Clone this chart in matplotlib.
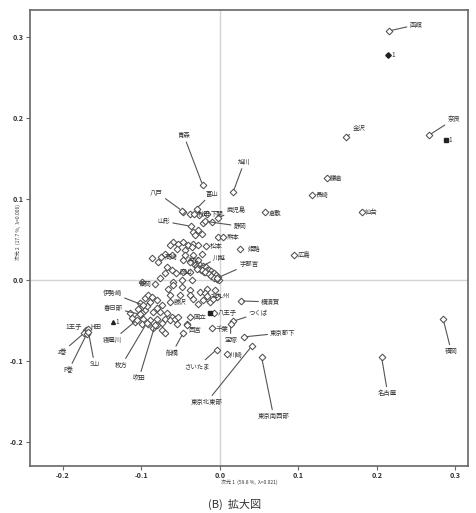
import matplotlib
matplotlib.use('Agg')
import matplotlib.pyplot as plt

plt.rcParams['font.family'] = ['Noto Sans CJK JP', 'DejaVu Sans']
plt.rcParams['axes.unicode_minus'] = False

# ---- data: labeled cities (dimension 1, dimension 2) ----
city_names = ['函館', '金沢', '奈良', '鎌倉', '長崎', '仙台', '広島', '倉敷', '福岡', '名古屋',
              '青森', '旭川', '富山', '八戸', '秋田', '下関', '鹿児島', '静岡', '熊本', '山形',
              '松本', '姫路', '川越', '宇都宮', '高崎', '浜松', '岡山', '長岡', '伊勢崎', '春日部',
              '寝屋川', '枚方', '吹田', '藤沢', '北九州', '横須賀', '八王子', 'つくば', '宝塚', '国立',
              '西宮', '千葉', '東京都下', '川崎', 'さいたま', '船橋', '東京北東部', '東京南西部',
              '1王子', 'H田', 'z巻', 'F巻', 'S山']
city_x = [0.2153, 0.1601, 0.2662, 0.1359, 0.1176, 0.1805, 0.0946, 0.0573, 0.2845, 0.2060,
          -0.0220, 0.0169, -0.0297, -0.0480, -0.0331, -0.0169, -0.0022, -0.0191, 0.0034, -0.0373,
          -0.0178, 0.0255, -0.0297, -0.0042, -0.0752, -0.0471, -0.0561, -0.0828, -0.0977, -0.1019,
          -0.1061, -0.0934, -0.0828, -0.0637, -0.0166, 0.0264, -0.0076, 0.0169, 0.0136, -0.0382,
          -0.0417, -0.0106, 0.0306, 0.0085, -0.0042, -0.0468, 0.0404, 0.0531,
          -0.1707, -0.1682, -0.1732, -0.1698, -0.1675]
city_y = [0.3072, 0.1759, 0.1784, 0.1257, 0.1043, 0.0830, 0.0302, 0.0830, -0.0491, -0.0960,
          0.1167, 0.1084, 0.0879, 0.0849, 0.0809, 0.0809, 0.0768, 0.0722, 0.0528, 0.0660,
          0.0422, 0.0385, 0.0138, 0.0019, 0.0278, 0.0241, 0.0080, -0.0047, -0.0315, -0.0426,
          -0.0500, -0.0537, -0.0562, -0.0278, -0.0204, -0.0262, -0.0414, -0.0512, -0.0549, -0.0459,
          -0.0562, -0.0595, -0.0706, -0.0923, -0.0862, -0.0657, -0.0821, -0.0960,
          -0.0623, -0.0611, -0.0660, -0.0673, -0.0648]

# ---- data: unlabeled cities ----
other_x = [-0.0468, -0.0382, -0.0264, -0.0098, -0.0213, -0.0276, -0.0340, -0.0233, -0.0318, -0.0022,
           -0.0595, -0.0531, -0.0468, -0.0637, -0.0404, -0.0340, -0.0276, -0.0552, -0.0446, -0.0361,
           -0.0701, -0.0615, -0.0446, -0.0340, -0.0233, -0.0382, -0.0276, -0.0679, -0.0615, -0.0701,
           -0.0468, -0.0382, -0.0764, -0.0595, -0.0488, -0.0361, -0.0997,
           -0.0318, -0.0293, -0.0268, -0.0255, -0.0229, -0.0217, -0.0191, -0.0178, -0.0166, -0.0153,
           -0.0140, -0.0127, -0.0115, -0.0102, -0.0089, -0.0076, -0.0064, -0.0051, -0.0038, -0.0025,
           -0.0013, -0.0242, -0.0204, -0.0280, -0.0230, -0.0185, -0.0145, -0.0110, -0.0070, -0.0035,
           -0.0659, -0.0595, -0.0488, -0.0382, -0.0255, -0.0169, -0.0064, -0.0637, -0.0510, -0.0382,
           -0.0191, -0.0340, -0.0149, -0.0042, -0.0892, -0.0806, -0.0743, -0.0955, -0.0850, -0.0764,
           -0.0679, -0.1061, -0.0977, -0.0892, -0.0806, -0.0701, -0.0615, -0.1083, -0.0997, -0.0913,
           -0.0806, -0.0743, -0.0850, -0.0743, -0.0701, -0.0637, -0.0573, -0.0424, -0.0531, -0.0552,
           -0.0955, -0.0917, -0.0866, -0.1019, -0.0930, -0.1045, -0.0994, -0.0803, -0.1121, -0.1146,
           -0.0866, -0.0790, -0.0217, -0.0127, -0.0089, -0.0280]
other_y = [0.0837, 0.0817, 0.0796, 0.0714, 0.0701, 0.0611, 0.0590, 0.0570, 0.0549, 0.0528,
           0.0467, 0.0447, 0.0467, 0.0426, 0.0426, 0.0447, 0.0426, 0.0385, 0.0373, 0.0405,
           0.0323, 0.0302, 0.0302, 0.0302, 0.0323, 0.0220, 0.0249, 0.0158, 0.0117, 0.0077,
           0.0096, 0.0096, 0.0015, -0.0027, -0.0006, -0.0006, -0.0027,
           0.0179, 0.0167, 0.0154, 0.0179, 0.0142, 0.0167, 0.0130, 0.0154, 0.0117, 0.0093,
           0.0117, 0.0080, 0.0105, 0.0068, 0.0043, 0.0080, 0.0031, 0.0056, 0.0006, 0.0031,
           -0.0006, 0.0117, 0.0093, 0.0150, 0.0125, 0.0100, 0.0075, 0.0050, 0.0025, 0.0010,
           -0.0109, -0.0068, -0.0089, -0.0130, -0.0151, -0.0109, -0.0130, -0.0191, -0.0191, -0.0191,
           -0.0170, -0.0232, -0.0232, -0.0212, -0.0274, -0.0253, -0.0315, -0.0377, -0.0398, -0.0398,
           -0.0417, -0.0459, -0.0479, -0.0500, -0.0479, -0.0479, -0.0459, -0.0521, -0.0541, -0.0541,
           -0.0562, -0.0533, -0.0602, -0.0623, -0.0664, -0.0500, -0.0479, -0.0541, -0.0459, -0.0541,
           -0.0228, -0.0191, -0.0216, -0.0290, -0.0327, -0.0364, -0.0414, -0.0352, -0.0475, -0.0414,
           0.0265, 0.0216, -0.0253, -0.0278, -0.0241, -0.0302]

# ---- data: supplementary points ----
supp_x = [0.2140, 0.2875, -0.1367, -0.0127]
supp_y = [0.2770, 0.1730, -0.0528, -0.0414]
supp_labels = ['1', '1', '1', '']

x_ticks = [-0.2, -0.1, 0.0, 0.1, 0.2, 0.3]
y_ticks = [-0.2, -0.1, 0.0, 0.1, 0.2, 0.3]
x_label = '次元 1  (59.8 %,  λ=0.021)'
y_label = '次元 2  (17.7 %,  λ=0.006)'
caption = '(B)  拡大図'

# ---- layout: label offsets in pixels (dx, dy up) and leader-line flags ----
label_dx = [27, 13, 25, 10, 10, 10, 10, 10, 8, 6,
            -19, 11, 15, -26, 10, 10, 18, 35, 10, -27,
            10, 14, 23, 32, 10, 10, 10, -10, -31, -27,
            -24, -25, -16, 10, 13, 30, 13, 25, 0, 10,
            8, 10, 39, 10, -19, -11, -45, 12,
            -12, 8, -22, -18, 6]
label_dy = [6, 9, 16, 0, 0, 0, 0, 0, -32, -36,
            50, 30, 15, 19, 0, 0, 7, -5, 0, 5,
            0, 0, 11, 14, 0, 0, 1, 0, 12, 6,
            -20, -42, -53, 0, 0, -1, 0, 8, -16, 0,
            -5, -1, 4, 0, -17, -20, -56, -59,
            3, 2, -19, -36, -32]
label_line = [1, 1, 1, 0, 0, 0, 0, 0, 1, 1,
              1, 1, 1, 1, 0, 0, 1, 1, 0, 1,
              0, 0, 1, 1, 0, 0, 0, 0, 1, 1,
              1, 1, 1, 0, 0, 1, 0, 1, 1, 0,
              0, 0, 1, 0, 1, 1, 1, 1,
              0, 0, 1, 1, 1]
supp_markers = ['D', 's', '^', 's']

W, H = 477, 513
fig = plt.figure(figsize=(W / 100, H / 100), dpi=100)
ax = fig.add_axes([30 / W, 1 - 466 / H, 438 / W, 456 / H])
ax.set_xlim(-0.242, 0.316)
ax.set_ylim(-0.230, 0.333)

ax.axhline(0, color='#d4d4d4', lw=1.0, zorder=0)
ax.axvline(0, color='#d4d4d4', lw=1.0, zorder=0)

mk = dict(marker='D', ms=3.4, mfc='white', mec='#505050', mew=0.75, ls='none', zorder=3)
ax.plot(other_x, other_y, **mk)
ax.plot(city_x, city_y, **mk)

for n, x, y, dx, dy, ln in zip(city_names, city_x, city_y, label_dx, label_dy, label_line):
    ap = None
    if ln:
        ap = dict(arrowstyle='-', color='#555555', lw=0.8, shrinkA=0, shrinkB=2)
    ax.annotate(n, (x, y), xytext=(dx, dy), textcoords='offset pixels',
                ha='center', va='center', fontsize=4.6, color='#333333',
                arrowprops=ap, zorder=4)

for x, y, lab, m in zip(supp_x, supp_y, supp_labels, supp_markers):
    ax.plot([x], [y], marker=m, ms=2.8, color='#222222', ls='none', zorder=4)
    if lab:
        ax.annotate(lab, (x, y), xytext=(5, 0), textcoords='offset pixels',
                    ha='center', va='center', fontsize=4.6, color='#333333')

ax.set_xticks(x_ticks)
ax.set_yticks(y_ticks)
ax.set_xticklabels([f'{t:.1f}' for t in x_ticks])
ax.set_yticklabels([f'{t:.1f}' for t in y_ticks])
ax.tick_params(direction='out', length=3, width=0.8, color='#666666',
               labelsize=5.2, labelcolor='#333333', pad=1.5)
for lab in ax.get_xticklabels() + ax.get_yticklabels():
    lab.set_fontweight('bold')
for s in ax.spines.values():
    s.set_color('#666666')
    s.set_linewidth(1.2)

fig.text(249 / W, 1 - 482 / H, x_label, ha='center', va='center', fontsize=3.6, color='#333333')
fig.text(18 / W, 1 - 232 / H, y_label, ha='center', va='center', rotation=90,
         fontsize=3.5, color='#333333')
fig.text(235 / W, 1 - 504 / H, caption, ha='center', va='center', fontsize=8, color='#333333')

fig.savefig('out.png', dpi=100)
